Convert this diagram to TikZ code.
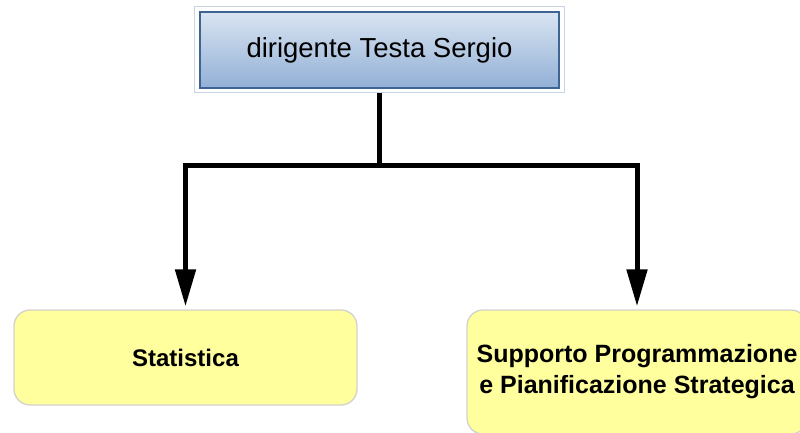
\documentclass[tikz,border=0pt]{standalone}
\usepackage{fontspec}
\setmainfont{Liberation Sans}
\usetikzlibrary{arrows.meta}
\definecolor{framecol}{HTML}{C9D5E4}
\definecolor{topborder}{HTML}{3E6494}
\definecolor{toptop}{HTML}{D9E4F1}
\definecolor{topbot}{HTML}{92B0D6}
\definecolor{yellowfill}{HTML}{FFFF9E}
\definecolor{yellowborder}{HTML}{D2D2CC}
\tikzset{
  topframe/.style={draw=framecol, line width=1pt, fill=white, minimum width=370pt, minimum height=86pt, inner sep=0pt},
  topbox/.style={draw=topborder, line width=1.3pt, top color=toptop, bottom color=topbot, minimum width=359pt, minimum height=76pt, inner sep=0pt, font=\fontsize{27.5}{30}\selectfont},
  unitbox/.style={draw=yellowborder, line width=1.3pt, fill=yellowfill, rounded corners=16pt, inner sep=0pt, align=center, font=\bfseries},
  conn/.style={line width=5pt, -{Triangle[width=20pt,length=37pt]}, shorten >=3pt}
}
\begin{document}
\begin{tikzpicture}[x=1pt,y=-1pt]
\useasboundingbox (0,0) rectangle (800,432);
\begin{scope}
\clip (0,0) rectangle (800,432);
\node[topframe] (frame) at (379,49) {};
\node[topbox] (top) at (379.5,50) {dirigente Testa Sergio};
\node[unitbox, minimum width=343pt, minimum height=95pt, font=\bfseries\fontsize{24}{30}\selectfont] (stat) at (185.5,357.5) {Statistica};
\node[unitbox, minimum width=340pt, minimum height=124pt, font=\bfseries\fontsize{25}{31}\selectfont] (supp) at (637,372) {Supporto Programmazione\\e Pianificazione Strategica};
\coordinate (br) at (379,165);
\draw[conn] (frame.south) -- (br) -| (stat.north);
\draw[conn] (br) -| (supp.north);
\end{scope}
\end{tikzpicture}
\end{document}
